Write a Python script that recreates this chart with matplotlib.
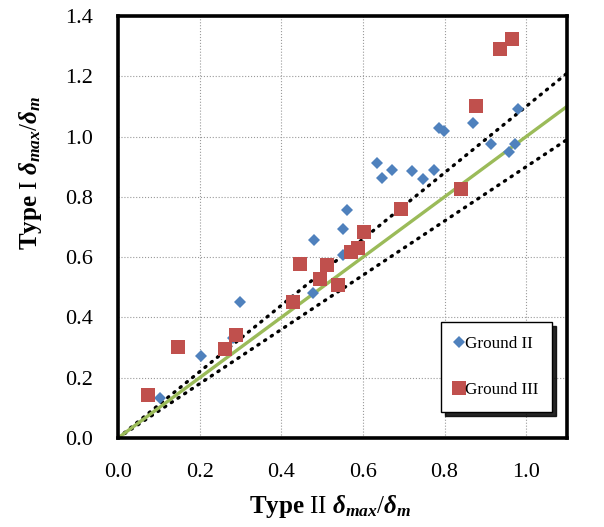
import numpy as np
import matplotlib
matplotlib.use("Agg")
import matplotlib.pyplot as plt
from matplotlib.font_manager import FontProperties

plt.rcParams['font.family'] = ['Liberation Serif', 'DejaVu Serif']
plt.rcParams['mathtext.fontset'] = 'custom'
plt.rcParams['mathtext.rm'] = 'Liberation Serif'
plt.rcParams['mathtext.it'] = 'Liberation Serif:italic:bold'
plt.rcParams['mathtext.bf'] = 'Liberation Serif:bold'

# Ground II results (Type II vs Type I normalised peak displacement)
ground2_x = [0.103, 0.203, 0.299, 0.282, 0.477, 0.480, 0.551, 0.551, 0.560, 0.634,
             0.646, 0.671, 0.720, 0.747, 0.774, 0.786, 0.798, 0.869, 0.915, 0.958,
             0.972, 0.980]
ground2_y = [0.133, 0.272, 0.451, 0.332, 0.481, 0.657, 0.693, 0.607, 0.756, 0.912,
             0.863, 0.889, 0.885, 0.858, 0.889, 1.030, 1.017, 1.046, 0.977, 0.950,
             0.974, 1.093]

# Ground III results
ground3_x = [0.074, 0.147, 0.263, 0.289, 0.429, 0.446, 0.494, 0.512, 0.539, 0.571,
             0.588, 0.602, 0.693, 0.840, 0.878, 0.935, 0.965]
ground3_y = [0.142, 0.301, 0.295, 0.341, 0.451, 0.577, 0.528, 0.575, 0.507, 0.616,
             0.630, 0.684, 0.759, 0.825, 1.100, 1.290, 1.323]

# Reference lines y = k x
ref_x = np.array([0.0, 1.1])
ref_equal = 1.0
ref_upper = 1.1
ref_lower = 0.9

x_ticks = [0.0, 0.2, 0.4, 0.6, 0.8, 1.0]
y_ticks = [0.0, 0.2, 0.4, 0.6, 0.8, 1.0, 1.2, 1.4]

W, H = 604, 527
fig = plt.figure(figsize=(W / 100, H / 100), dpi=100)
ax = fig.add_axes([118 / W, 1 - 438 / H, 449 / W, 422 / H])

ax.set_xlim(0, 1.1)
ax.set_ylim(0, 1.4)
ax.set_xticks(x_ticks)
ax.set_yticks(y_ticks)
ax.set_xticklabels([f"{v:.1f}" for v in x_ticks])
ax.set_yticklabels([f"{v:.1f}" for v in y_ticks])
ax.tick_params(length=0, pad=18, labelsize=16)
ax.grid(True, linestyle=':', color='#9a9a9a', linewidth=0.8)
ax.set_axisbelow(True)
for sp in ax.spines.values():
    sp.set_linewidth(2.6)
    sp.set_color('black')

dot_style = dict(color='black', linewidth=2.4, linestyle=(0, (0.4, 2.0)),
                 dash_capstyle='round', zorder=2)
ax.plot(ref_x, ref_upper * ref_x, **dot_style)
ax.plot(ref_x, ref_lower * ref_x, **dot_style)
ax.plot(ref_x, ref_equal * ref_x, color='#9BBB59', linewidth=2.4, zorder=2)

ax.plot(ground2_x, ground2_y, linestyle='none', marker='D', markersize=6.2,
        color='#4F81BD', markeredgewidth=0, label='Ground II', zorder=3)
ax.plot(ground3_x, ground3_y, linestyle='none', marker='s', markersize=9.4,
        color='#C0504D', markeredgewidth=0, label='Ground III', zorder=4)

leg = ax.legend(loc='upper left', bbox_to_anchor=(441 / W, 1 - 322 / H),
                bbox_transform=fig.transFigure, borderaxespad=0,
                frameon=True, fancybox=False,
                shadow={'ox': 3, 'oy': -3, 'color': 'black', 'alpha': 0.85},
                prop=FontProperties(family='Liberation Serif', size=12.3),
                handlelength=0.5, handletextpad=0.1, labelspacing=1.8,
                borderpad=0.8)
leg.get_frame().set_edgecolor('black')
leg.get_frame().set_linewidth(1.0)
leg.get_frame().set_alpha(1.0)

fig.text(330 / W, 1 - 513 / H,
         r'$\mathbf{Type}\ \mathrm{II}\ \delta_{max}/\delta_{m}$',
         ha='center', va='baseline', fontsize=18)
fig.text(31 / W, 1 - 173 / H,
         r'$\mathbf{Type}\ \mathrm{I}\ \delta_{max}/\delta_{m}$',
         ha='center', va='center', rotation=90, fontsize=18)

fig.savefig('out.png', dpi=100)
